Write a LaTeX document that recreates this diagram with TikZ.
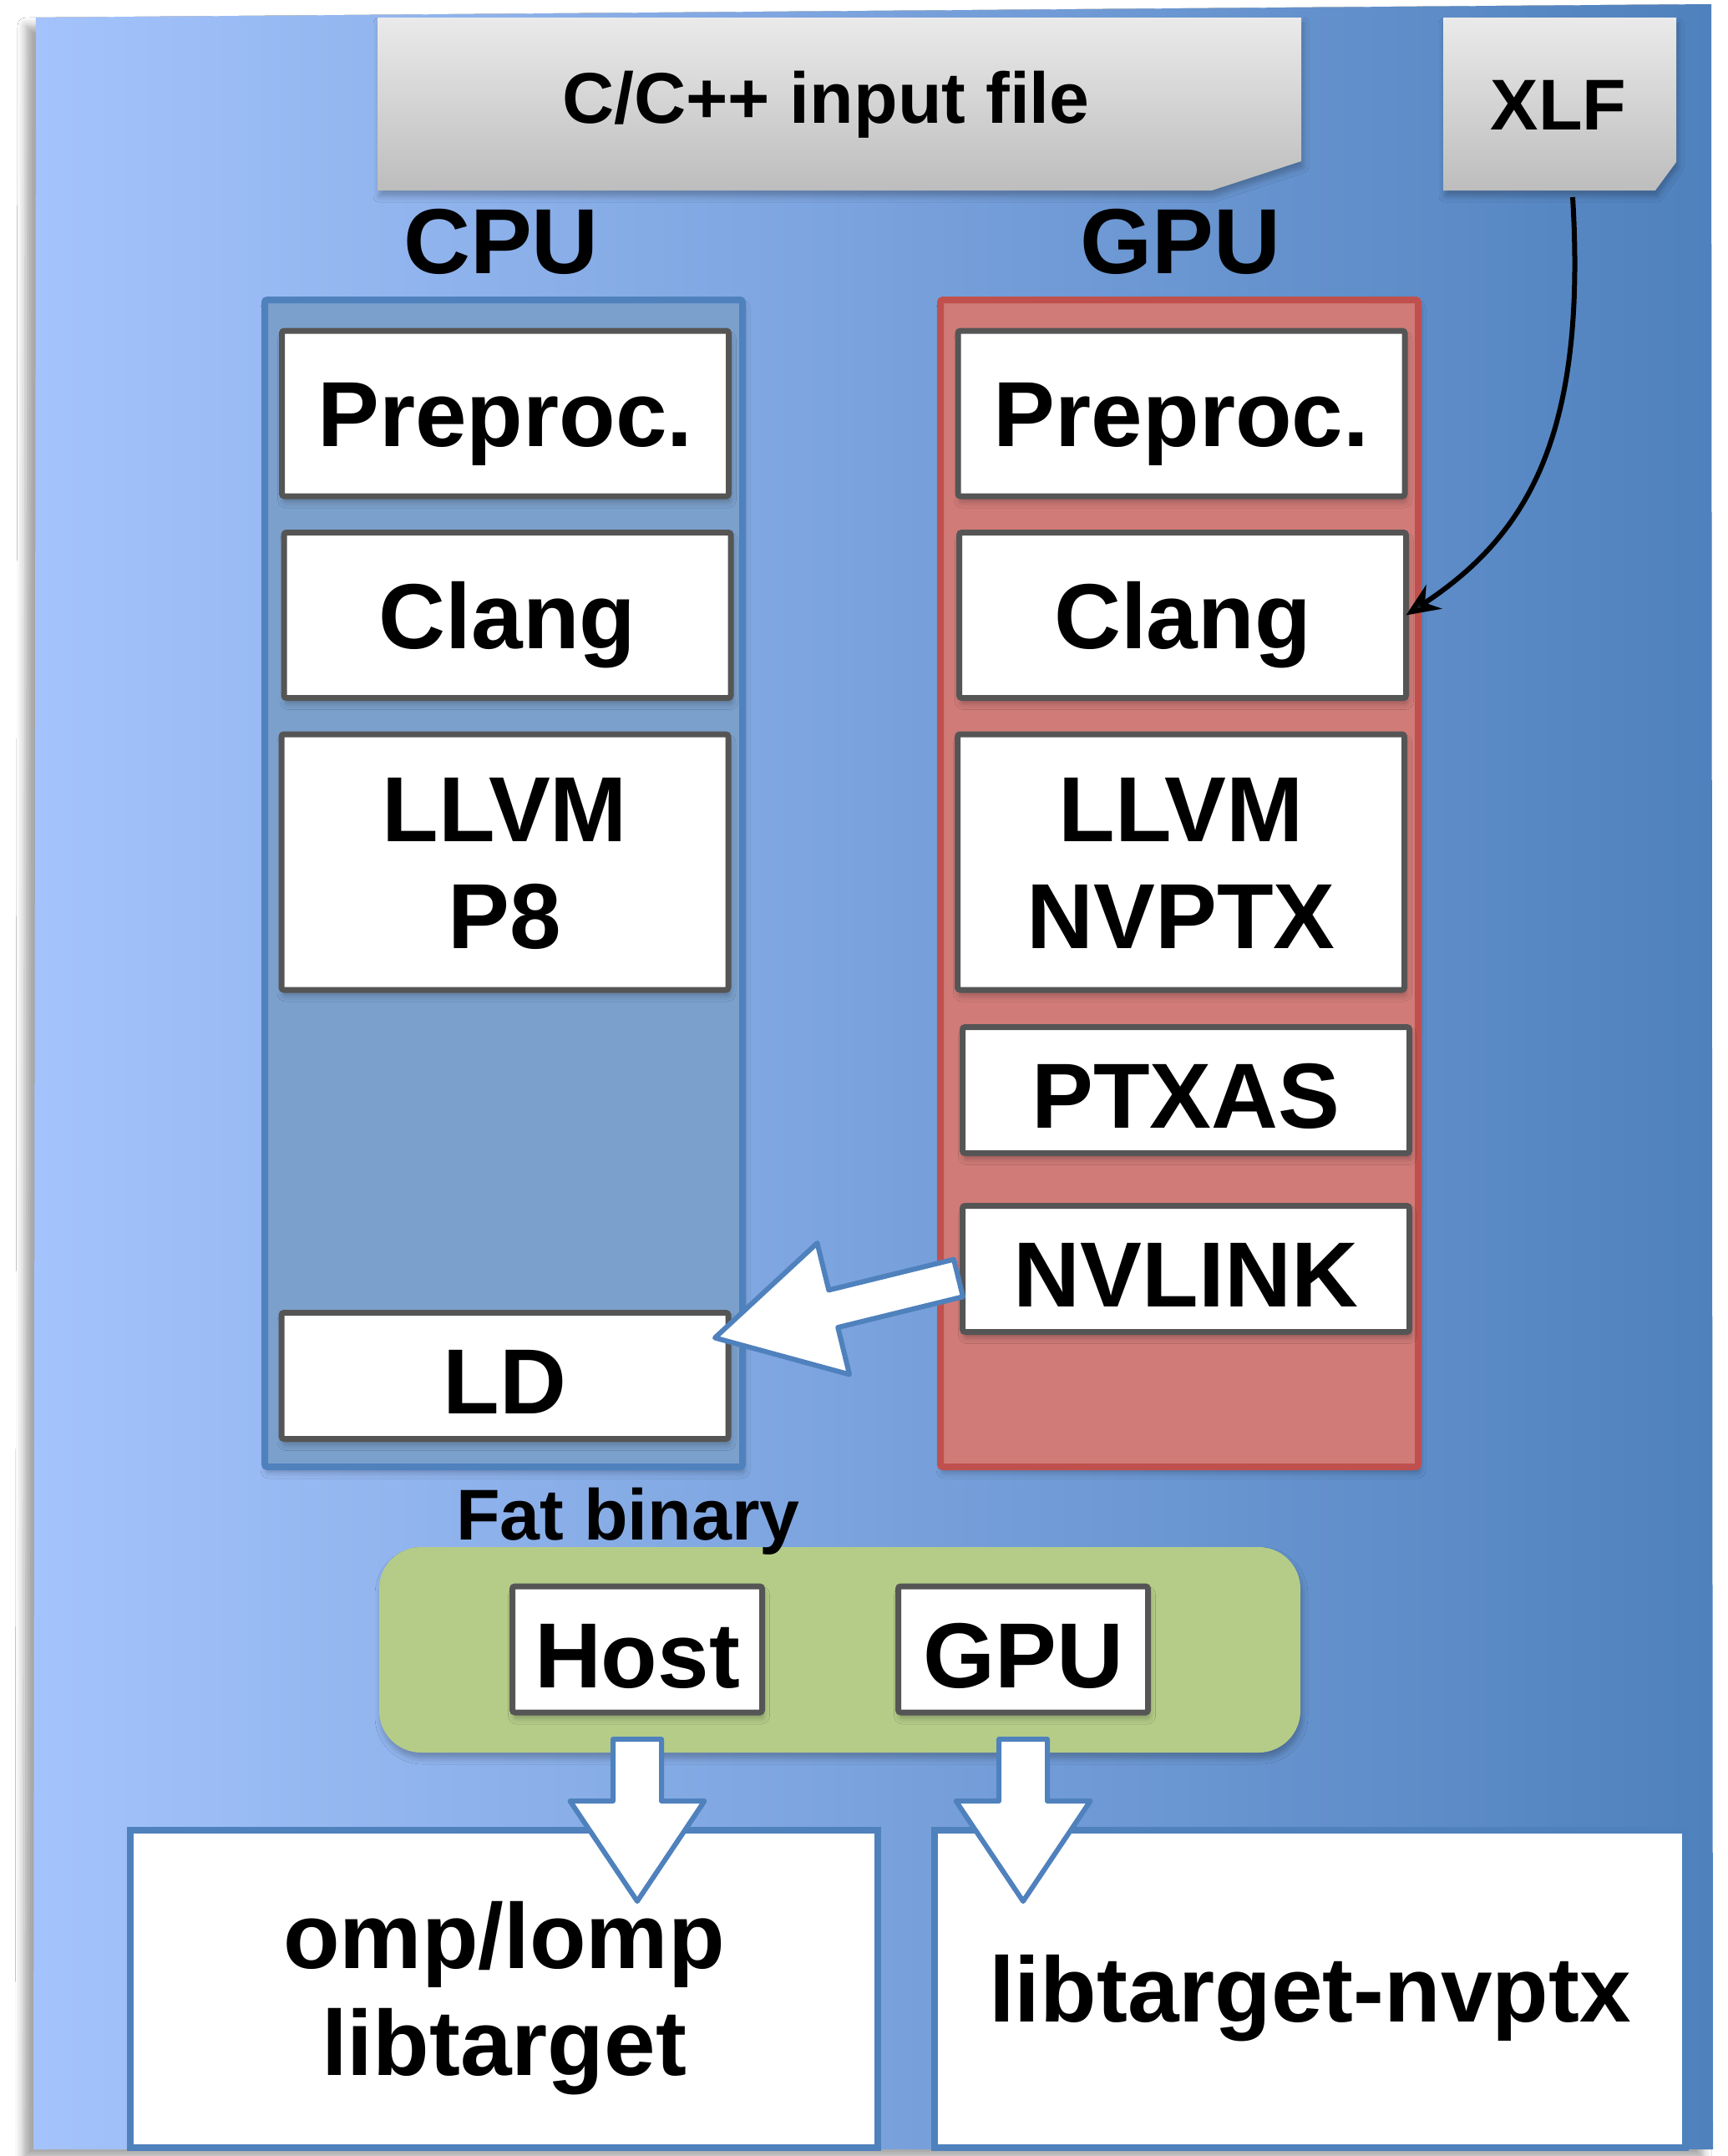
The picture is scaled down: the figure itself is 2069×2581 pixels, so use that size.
\documentclass[tikz,border=0pt]{standalone}
\usepackage{fontspec}
\setmainfont{Liberation Sans}
\usetikzlibrary{arrows.meta,calc,shadows.blur}

\definecolor{bgleft}{RGB}{164,195,252}
\definecolor{bgright}{RGB}{79,129,189}
\definecolor{cpufill}{RGB}{123,160,204}
\definecolor{cpuline}{RGB}{79,129,189}
\definecolor{gpufill}{RGB}{208,123,120}
\definecolor{gpuline}{RGB}{192,80,77}
\definecolor{boxline}{RGB}{85,85,85}
\definecolor{fatfill}{RGB}{180,204,136}
\definecolor{filetop}{RGB}{234,234,234}
\definecolor{filebot}{RGB}{189,189,189}

\newcommand\stagefont{\fontsize{31.5pt}{36.2pt}\selectfont\bfseries}
\newcommand\labelfont{\fontsize{24.5pt}{29pt}\selectfont\bfseries}

\newcommand\fatarrow[5]{%
  \coordinate (fah) at ($(#2)!#5!(#1)$);
  \draw[fatarrow] ($(#1)!#3!90:(#2)$) -- ($(fah)!#3!90:(#2)$) -- ($(fah)!#4!90:(#2)$) -- (#2)
    -- ($(fah)!#4!-90:(#2)$) -- ($(fah)!#3!-90:(#2)$) -- ($(#1)!#3!-90:(#2)$) -- cycle;}

\tikzset{
  softshadow/.style={blur shadow={shadow xshift=0.2mm, shadow yshift=-0.7mm, shadow opacity=25, shadow blur radius=0.7mm}},
  stage/.style={draw=boxline, line width=0.7mm, fill=white, rounded corners=0.3mm, softshadow,
    minimum width=53.5mm, minimum height=19.8mm, inner sep=0pt, outer sep=0pt,
    font=\stagefont, align=center, text height=7.9mm, text depth=0mm},
  lowstage/.style={stage, minimum height=15.1mm, text height=9.1mm},
  twoline/.style={text height=20.6mm, text depth=0mm},
  column/.style={line width=0.8mm, rounded corners=0.3mm, inner sep=0pt, outer sep=0pt,
    minimum width=57.2mm, minimum height=139.7mm, softshadow},
  libbox/.style={draw=cpuline, line width=0.8mm, fill=white, inner sep=0pt, outer sep=0pt,
    minimum height=38mm, font=\stagefont, align=center, text height=7.9mm, text depth=0mm},
  title/.style={font=\stagefont, inner sep=0pt, text height=7.9mm, text depth=0mm},
  filelabel/.style={font=\labelfont, inner sep=0pt, text height=6.2mm, text depth=0mm},
  filebox/.style={top color=filetop, bottom color=filebot, softshadow},
  fatarrow/.style={draw=cpuline, fill=white, line width=0.6mm, line join=round}
}

\begin{document}
\begin{tikzpicture}[x=0.1mm,y=-0.1mm]
        \path[use as bounding box, fill=white] (0,0) rectangle (2069,2581);
        \shade[left color=bgleft, right color=bgright,
          blur shadow={shadow xshift=-1.2mm, shadow yshift=-1mm, shadow opacity=35, shadow blur radius=1mm}]
          (43,21) -- (2049,5) -- (2051,2573) -- (40,2573) -- cycle;

        \shade[filebox] (452,21) -- (1558,21) -- (1558,193) -- (1451,228) -- (452,228) -- cycle;
        \node[filelabel] (input) at (989,116) {C/C++ input file};
        \shade[filebox] (1728,21) -- (2007,21) -- (2007,194) -- (1982,228) -- (1728,228) -- cycle;
        \node[filelabel] (xlf) at (1866,124) {XLF};

        \node[title] (cpulabel) at (600,287.5) {CPU};
        \node[title] (gpulabel) at (1413,287.5) {GPU};
        \node[column, draw=cpuline, fill=cpufill] (cpu) at (603,1057.5) {};
        \node[column, draw=gpuline, fill=gpufill] (gpu) at (1412,1057.5) {};

        \node[stage] (cpre) at (605,495) {Preproc.};
        \node[stage] (cclang) at (607.5,736.5) {Clang};
        \node[stage, twoline, minimum height=30.6mm] (cllvm) at (604.5,1032) {LLVM\\P8};
        \node[lowstage] (cld) at (604.5,1647) {LD};

        \node[stage] (gpre) at (1414.5,495) {Preproc.};
        \node[stage] (gclang) at (1416,736.5) {Clang};
        \node[stage, twoline, minimum height=30.6mm] (gllvm) at (1414,1032) {LLVM\\NVPTX};
        \node[lowstage] (gptxas) at (1420,1305) {PTXAS};
        \node[lowstage] (gnvlink) at (1420,1519) {NVLINK};

        \node[fill=fatfill, rounded corners=5mm, minimum width=110.3mm, minimum height=24.6mm, softshadow] (fat) at (1005.5,1975) {};
        \node[filelabel] (fatlabel) at (752,1812.5) {Fat binary};
        \node[lowstage, minimum width=29.9mm] (host) at (763,1974.5) {Host};
        \node[lowstage, minimum width=29.9mm] (gpubin) at (1225,1974.5) {GPU};

        \node[libbox, twoline, minimum width=89.5mm] (omp) at (603.5,2381) {omp/lomp\\libtarget};
        \node[libbox, minimum width=89.9mm] (nvptx) at (1568.5,2381) {libtarget-nvptx};

        \coordinate (xlfout) at ($(xlf)+(17,112)$);
        \draw[line width=0.6mm, -{Stealth[length=4mm, width=3.4mm]}] (xlfout) .. controls (1900,520) and (1830,640) .. (gclang.east);

        \coordinate (nvout) at ($(gnvlink.west)+(-5,11)$);
        \coordinate (ldin) at ($(cld.north east)+(-16,30)$);
        \fatarrow{nvout}{ldin}{2.3mm}{8.1mm}{14.6mm}
        \coordinate (hostout) at ($(host.south)+(0,32)$);
        \coordinate (ompin) at ($(host.south)+(0,226)$);
        \fatarrow{hostout}{ompin}{2.9mm}{8.05mm}{12mm}
        \coordinate (gpuout) at ($(gpubin.south)+(0,32)$);
        \coordinate (nvptxin) at ($(gpubin.south)+(0,226)$);
        \fatarrow{gpuout}{nvptxin}{2.9mm}{8.05mm}{12mm}
    \end{tikzpicture}
\end{document}
